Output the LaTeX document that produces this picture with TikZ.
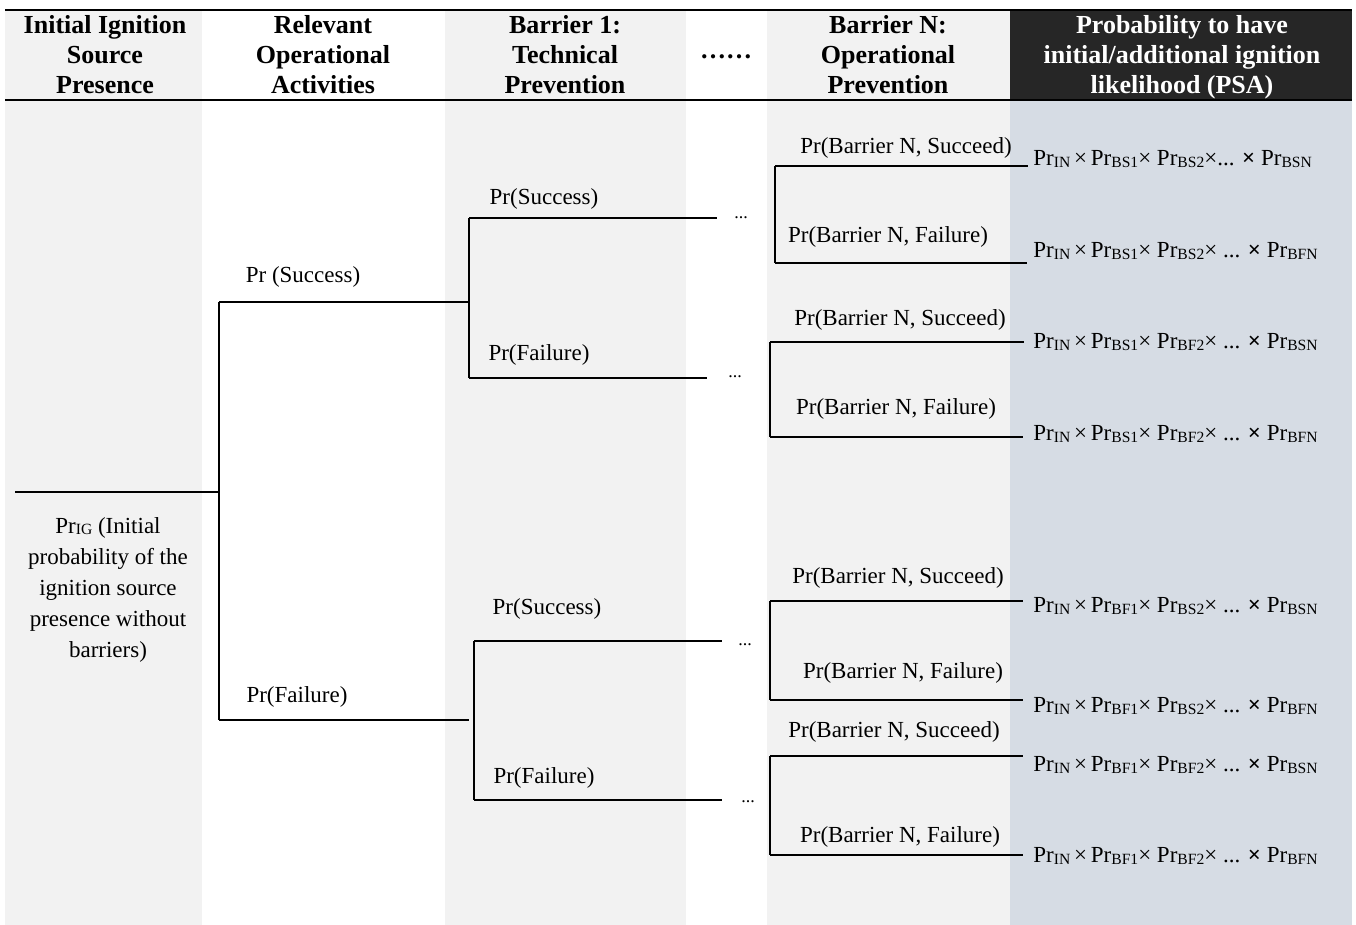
\documentclass[tikz,border=0pt]{standalone}
\usepackage{fontspec}
\setmainfont{Liberation Serif}
\definecolor{colgray}{HTML}{F2F2F2}
\definecolor{hdrdark}{HTML}{262626}
\definecolor{psablue}{HTML}{D6DCE4}
% small lowered index letters, e.g. Pr_{IN}
\newcommand\idx[1]{\raisebox{-0.7pt}{\fontsize{7.8}{9}\selectfont #1}}
\newcommand\tms{\,\texttimes\,}
\begin{document}
\begin{tikzpicture}[x=0.5pt,y=-0.5pt,
  branch/.style={line width=1.1pt},
  lbl/.style={font=\fontsize{11.5}{15.5}\selectfont, inner sep=0pt},
  hdr/.style={font=\fontsize{13}{15}\selectfont\bfseries, align=center, inner sep=0pt},
  res/.style={font=\fontsize{11.5}{15.5}\selectfont, anchor=west, inner sep=0pt},
  dotsnode/.style={font=\fontsize{9}{10}\selectfont, inner sep=0pt, anchor=base}]
\useasboundingbox (0,0) rectangle (1356,925);

% column shading
\fill[colgray] (5,10) rectangle (202,925);
\fill[colgray] (445,10) rectangle (686,925);
\fill[colgray] (767,10) rectangle (1010,925);
\fill[hdrdark] (1010,10) rectangle (1352,100);
\fill[psablue] (1010,100) rectangle (1352,925);
\draw[line width=1.3pt] (5,10) -- (1352,10);
\draw[line width=1.1pt] (5,100) -- (1352,100);

% column headings
\node[hdr] (h1) at (105,55) {Initial Ignition\\Source\\Presence};
\node[hdr] (h2) at (323,55) {Relevant\\Operational\\Activities};
\node[hdr] (h3) at (565,55) {Barrier 1:\\Technical\\Prevention};
\node[hdr] (h4) at (726,57) {\dots\dots};
\node[hdr] (h5) at (888,55) {Barrier N:\\Operational\\Prevention};
\node[hdr, text=white] (h6) at (1182,57) {Probability to have\\initial/additional ignition\\likelihood (PSA)};

% root of the tree
\node[lbl, align=center] (ig) at (108,590) {Pr\idx{IG} (Initial\\probability of the\\ignition source\\presence without\\barriers)};
\coordinate (r0) at (15,492);
\coordinate (r1) at (219,492);
\coordinate (a1) at (219,302);
\coordinate (a2) at (219,720);
\draw[branch] (r0) -- (r1);
\draw[branch] (a1) -- (a2);

% operational activities
\coordinate (b1) at (469,302);
\coordinate (b2) at (469,720);
\draw[branch] (a1) -- (b1);
\draw[branch] (a2) -- (b2);
\node[lbl] (l1) at (303,277) {Pr (Success)};
\node[lbl] (l2) at (297,697) {Pr(Failure)};

% barrier 1, upper part
\coordinate (c1) at (469,218);
\coordinate (c2) at (469,378);
\coordinate (c1e) at (717,218);
\coordinate (c2e) at (707,378);
\draw[branch] (c1) -- (c2);
\draw[branch] (c1) -- (c1e);
\draw[branch] (c2) -- (c2e);
\node[lbl] (l3) at (544,199) {Pr(Success)};
\node[lbl] (l4) at (539,355) {Pr(Failure)};
\node[dotsnode] (d1) at (741,219) {...};
\node[dotsnode] (d2) at (735,378) {...};

% barrier 1, lower part
\coordinate (c3) at (474,641);
\coordinate (c4) at (474,800);
\coordinate (c3e) at (722,641);
\coordinate (c4e) at (722,800);
\draw[branch] (c3) -- (c4);
\draw[branch] (c3) -- (c3e);
\draw[branch] (c4) -- (c4e);
\node[lbl] (l5) at (547,609) {Pr(Success)};
\node[lbl] (l6) at (544,778) {Pr(Failure)};
\node[dotsnode] (d3) at (745,645) {...};
\node[dotsnode] (d4) at (748,802) {...};

% barrier N, four groups
\coordinate (g1s) at (775,166);  \coordinate (g1se) at (1028,166);
\coordinate (g1f) at (775,263);  \coordinate (g1fe) at (1027,263);
\coordinate (g2s) at (770,342);  \coordinate (g2se) at (1024,342);
\coordinate (g2f) at (770,437);  \coordinate (g2fe) at (1023,437);
\coordinate (g3s) at (770,601);  \coordinate (g3se) at (1023,601);
\coordinate (g3f) at (770,700);  \coordinate (g3fe) at (1023,700);
\coordinate (g4s) at (770,756);  \coordinate (g4se) at (1023,756);
\coordinate (g4f) at (770,855);  \coordinate (g4fe) at (1023,855);
\foreach \g in {1,2,3,4}{
  \draw[branch] (g\g s) -- (g\g f);
  \draw[branch] (g\g s) -- (g\g se);
  \draw[branch] (g\g f) -- (g\g fe);
}
\node[lbl] (n1s) at (906,148) {Pr(Barrier N, Succeed)};
\node[lbl] (n1f) at (888,237) {Pr(Barrier N, Failure)};
\node[lbl] (n2s) at (900,320) {Pr(Barrier N, Succeed)};
\node[lbl] (n2f) at (896,409) {Pr(Barrier N, Failure)};
\node[lbl] (n3s) at (898,578) {Pr(Barrier N, Succeed)};
\node[lbl] (n3f) at (903,673) {Pr(Barrier N, Failure)};
\node[lbl] (n4s) at (894,732) {Pr(Barrier N, Succeed)};
\node[lbl] (n4f) at (900,837) {Pr(Barrier N, Failure)};

% resulting probabilities
\node[res] (p1) at (1033,159) {Pr\idx{IN}\tms Pr\idx{BS1}\texttimes\ Pr\idx{BS2}\texttimes... \textbf{\texttimes} Pr\idx{BSN}};
\node[res] (p2) at (1033,251) {Pr\idx{IN}\tms Pr\idx{BS1}\texttimes\ Pr\idx{BS2}\texttimes\ ... \textbf{\texttimes} Pr\idx{BFN}};
\node[res] (p3) at (1033,342) {Pr\idx{IN}\tms Pr\idx{BS1}\texttimes\ Pr\idx{BF2}\texttimes\ ... \textbf{\texttimes} Pr\idx{BSN}};
\node[res] (p4) at (1033,434) {Pr\idx{IN}\tms Pr\idx{BS1}\texttimes\ Pr\idx{BF2}\texttimes\ ... \textbf{\texttimes} Pr\idx{BFN}};
\node[res] (p5) at (1033,606) {Pr\idx{IN}\tms Pr\idx{BF1}\texttimes\ Pr\idx{BS2}\texttimes\ ... \textbf{\texttimes} Pr\idx{BSN}};
\node[res] (p6) at (1033,706) {Pr\idx{IN}\tms Pr\idx{BF1}\texttimes\ Pr\idx{BS2}\texttimes\ ... \textbf{\texttimes} Pr\idx{BFN}};
\node[res] (p7) at (1033,765) {Pr\idx{IN}\tms Pr\idx{BF1}\texttimes\ Pr\idx{BF2}\texttimes\ ... \textbf{\texttimes} Pr\idx{BSN}};
\node[res] (p8) at (1033,856) {Pr\idx{IN}\tms Pr\idx{BF1}\texttimes\ Pr\idx{BF2}\texttimes\ ... \textbf{\texttimes} Pr\idx{BFN}};
\end{tikzpicture}
\end{document}
